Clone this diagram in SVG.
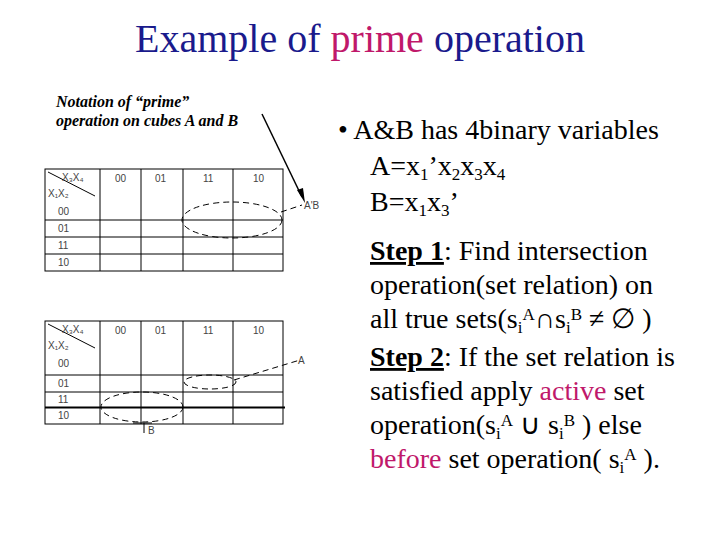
<svg xmlns="http://www.w3.org/2000/svg" width="720" height="540" viewBox="0 0 720 540">
<style>
.g{stroke:#000;stroke-width:1;fill:none}
.e{stroke:#000;stroke-width:1;fill:none;stroke-dasharray:6,4}
.s{font-family:"Liberation Sans",sans-serif;font-size:10px;fill:#444}
.t{font-family:"Liberation Serif",serif;font-size:28px;fill:#000}
</style>
<rect width="720" height="540" fill="#fff"/>
<text x="360" y="52" text-anchor="middle" font-family="Liberation Serif,serif" font-size="40" fill="#1a1a8c">Example of <tspan fill="#c0186a">prime</tspan> operation</text>
<g font-family="Liberation Serif,serif" font-size="16" font-style="italic" font-weight="bold">
<text x="56" y="107">Notation of “prime”</text>
<text x="56" y="126">operation on cubes A and B</text>
</g>
<g id="map1">
<rect class="g" x="45" y="169" width="238" height="102"/>
<path class="g" d="M100 169V271M141 169V271M183 169V271M233 169V271M45 220H283M45 237H283M45 254H283M48 172L95 196"/>
<text class="s" x="62" y="181">X₃X₄</text><text class="s" x="48" y="197">X₁X₂</text><text class="s" x="58" y="215">00</text>
<text class="s" x="115" y="182">00</text><text class="s" x="155" y="182">01</text><text class="s" x="203" y="182">11</text><text class="s" x="253" y="182">10</text>
<text class="s" x="58" y="232">01</text><text class="s" x="58" y="249">11</text><text class="s" x="58" y="266">10</text>
<ellipse class="e" cx="232" cy="220" rx="50" ry="18"/>
<path class="e" d="M281 212L302 205"/>
<text class="s" x="304" y="209">A'B</text>
</g>
<g id="map2">
<rect class="g" x="45" y="321" width="238" height="103"/>
<path class="g" d="M100 321V424M141 321V424M183 321V424M233 321V424M45 375H283M45 392H283M48 324L95 348"/>
<path d="M45 407.5H285" stroke="#000" stroke-width="2"/>
<text class="s" x="62" y="333">X₃X₄</text><text class="s" x="48" y="349">X₁X₂</text><text class="s" x="58" y="367">00</text>
<text class="s" x="115" y="334">00</text><text class="s" x="155" y="334">01</text><text class="s" x="203" y="334">11</text><text class="s" x="253" y="334">10</text>
<text class="s" x="58" y="387">01</text><text class="s" x="58" y="403">11</text><text class="s" x="58" y="419">10</text>
<ellipse class="e" cx="210" cy="382" rx="26" ry="7"/>
<ellipse class="e" cx="142" cy="407" rx="41" ry="15"/>
<path class="e" d="M234 380L300 360"/>
<text class="s" x="298" y="364">A</text>
<path class="g" d="M133 423H152M144 423L144 433"/>
<text class="s" x="148" y="434">B</text>
</g>
<g id="connectors">
<path d="M262 114L302 197" stroke="#000" stroke-width="1.5"/>
<path d="M297 190L305 203L303 188Z" fill="#000"/>
</g>
<g class="t">
<text x="338" y="139">• A&amp;B has 4binary variables</text>
<text x="370" y="175">A=x<tspan font-size="17" dy="5">1</tspan><tspan dy="-5">’x</tspan><tspan font-size="17" dy="5">2</tspan><tspan dy="-5">x</tspan><tspan font-size="17" dy="5">3</tspan><tspan dy="-5">x</tspan><tspan font-size="17" dy="5">4</tspan></text>
<text x="370" y="211">B=x<tspan font-size="17" dy="5">1</tspan><tspan dy="-5">x</tspan><tspan font-size="17" dy="5">3</tspan><tspan dy="-5">’</tspan></text>
<text x="370" y="260"><tspan font-weight="bold" text-decoration="underline">Step 1</tspan>: Find intersection</text>
<text x="370" y="294">operation(set relation) on</text>
<text x="370" y="328">all true sets(s<tspan font-size="17" dy="5">i</tspan><tspan font-size="17" dy="-13">A</tspan><tspan dy="8">∩s</tspan><tspan font-size="17" dy="5">i</tspan><tspan font-size="17" dy="-13">B</tspan><tspan dy="8"> ≠ ∅ )</tspan></text>
<text x="370" y="366"><tspan font-weight="bold" text-decoration="underline">Step 2</tspan>: If the set relation is</text>
<text x="370" y="400">satisfied apply <tspan fill="#c0186a">active</tspan> set</text>
<text x="370" y="434">operation(s<tspan font-size="17" dy="5">i</tspan><tspan font-size="17" dy="-13">A</tspan><tspan dy="8"> ∪ s</tspan><tspan font-size="17" dy="5">i</tspan><tspan font-size="17" dy="-13">B</tspan><tspan dy="8"> ) else</tspan></text>
<text x="370" y="468"><tspan fill="#c0186a">before</tspan> set operation( s<tspan font-size="17" dy="5">i</tspan><tspan font-size="17" dy="-13">A</tspan><tspan dy="8"> ).</tspan></text>
</g>
</svg>
